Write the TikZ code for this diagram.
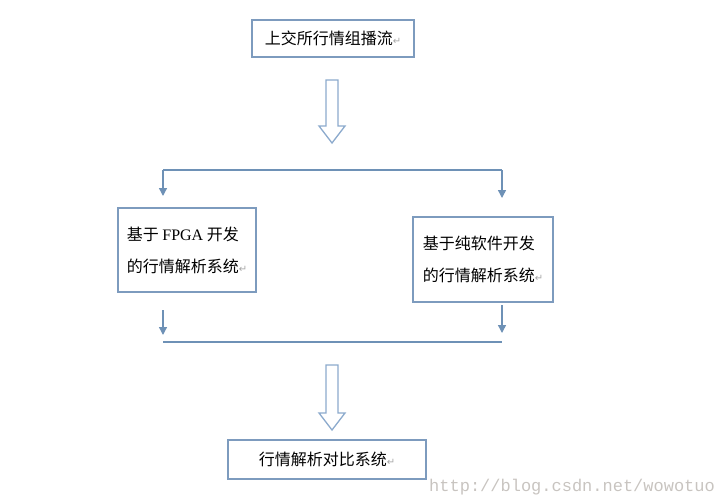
\documentclass[tikz,border=0pt]{standalone}
\usepackage{fontspec}
\setmainfont{Liberation Serif}
\newfontfamily\cjk{Noto Sans CJK SC}
\newfontfamily\symfont{DejaVu Sans}
\newfontfamily\markfont{Liberation Mono}
\usetikzlibrary{arrows.meta}
\definecolor{boxblue}{RGB}{125,155,190}
\definecolor{lineblue}{RGB}{110,145,182}
\definecolor{fatblue}{RGB}{140,170,205}
\definecolor{markgray}{RGB}{200,196,192}
\newcommand{\retmark}{{\symfont\color{gray!70}\fontsize{10}{10}\selectfont ↵}}
% hollow block arrow: x, top, tip
\newcommand{\fatarrow}[3]{%
  \draw[fatblue, line width=1.3pt, fill=white, line join=miter]
    (#1-6,#2) -- (#1+6,#2) -- (#1+6,#3-17) -- (#1+13,#3-17) -- (#1,#3)
    -- (#1-13,#3-17) -- (#1-6,#3-17) -- cycle;}

\begin{document}
\begin{tikzpicture}[x=1pt, y=-1pt,
  box/.style={draw=boxblue, line width=1.2pt, inner sep=0pt, align=left,
    font=\cjk\fontsize{16}{32}\selectfont},
  flow/.style={draw=lineblue, line width=1.4pt},
  flowarrow/.style={flow, -{Triangle[length=8pt, width=8pt]}}]
\useasboundingbox (0,0) rectangle (725,501);
% TOP: multicast feed
\node[box, minimum width=162pt, minimum height=37pt] (feed) at (333,38.5) {上交所行情组播流\retmark};
\fatarrow{332}{80}{143}
% SPLIT
\coordinate (splitL) at (163,170);
\coordinate (splitR) at (502,170);
\draw[flow] (splitL) -- (splitR);
% TWO SYSTEMS
\node[box, minimum width=138pt, minimum height=84pt] (fpga) at (187,250)
  {基于 {\rmfamily FPGA} 开发\\的行情解析系统\retmark};
\node[box, minimum width=140pt, minimum height=85pt] (soft) at (483,259.5)
  {基于纯软件开发\\的行情解析系统\retmark};
\coordinate (fpgaIn) at (163,196);
\coordinate (softIn) at (502,198);
\draw[flowarrow] (splitL) -- (fpgaIn);
\draw[flowarrow] (splitR) -- (softIn);
% MERGE
\coordinate (fpgaOut) at (163,310);
\coordinate (softOut) at (502,305);
\coordinate (mergeL) at (163,342);
\coordinate (mergeR) at (502,342);
\draw[flowarrow] (fpgaOut) -- (163,335);
\draw[flowarrow] (softOut) -- (502,333);
\draw[flow] (mergeL) -- (mergeR);
\fatarrow{332}{365}{430}
% BOTTOM: comparison
\node[box, minimum width=198pt, minimum height=39pt] (compare) at (327,459.5) {行情解析对比系统\retmark};
\node[anchor=west, inner sep=0pt, text=markgray, font=\markfont\fontsize{17}{17}\selectfont]
  (watermark) at (429,487) {http://blog.csdn.net/wowotuo};
\end{tikzpicture}
\end{document}
